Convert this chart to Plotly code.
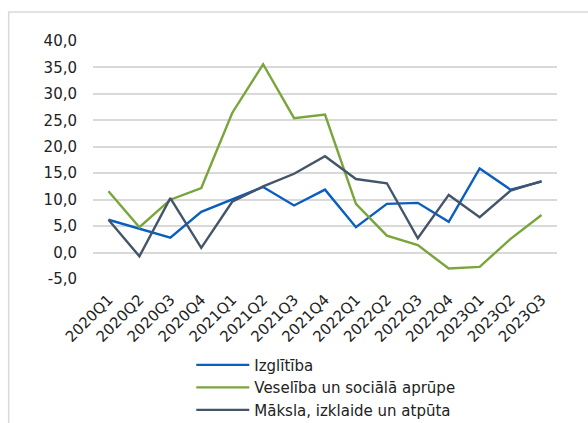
import plotly.graph_objects as go

quarters = ["2020Q1", "2020Q2", "2020Q3", "2020Q4",
            "2021Q1", "2021Q2", "2021Q3", "2021Q4",
            "2022Q1", "2022Q2", "2022Q3", "2022Q4",
            "2023Q1", "2023Q2", "2023Q3"]

izglitiba = [6.2, 4.5, 2.8, 7.7, 10.0, 12.4, 8.9, 11.9, 4.8, 9.2, 9.4, 5.8, 15.9, 11.9, 13.4]
veseliba = [11.6, 4.8, 10.0, 12.2, 26.4, 35.6, 25.4, 26.1, 9.2, 3.2, 1.4, -3.0, -2.7, 2.6, 7.1]
maksla = [6.2, -0.7, 10.3, 0.9, 9.6, 12.5, 14.9, 18.2, 13.9, 13.1, 2.7, 10.9, 6.7, 11.7, 13.5]

names = ["Izglītība", "Veselība un sociālā aprūpe", "Māksla, izklaide un atpūta"]
colors = ["#0A5EBF", "#79A53A", "#44546A"]

fig = go.Figure()
for name, vals, col in zip(names, [izglitiba, veseliba, maksla], colors):
    fig.add_trace(go.Scatter(x=quarters, y=vals, name=name, mode="lines",
                             line=dict(color=col, width=2.4)))

tickvals = [-5, 0, 5, 10, 15, 20, 25, 30, 35, 40]
ticktext = [f"{v:.1f}".replace(".", ",") for v in tickvals]

fig.update_layout(
    width=588, height=423,
    margin=dict(l=92.5, r=30.5, t=41, b=143.7, autoexpand=False),
    paper_bgcolor="white", plot_bgcolor="white",
    font=dict(family="DejaVu Sans, Verdana, sans-serif", size=15, color="#222222"),
    showlegend=True,
    legend=dict(orientation="v", x=(191 - 92.5) / 465, y=(279.3 - 349) / 238.3,
                xanchor="left", yanchor="top",
                font=dict(size=15, color="#222222"), itemwidth=53,
                tracegroupgap=0, bgcolor="rgba(0,0,0,0)"),
    xaxis=dict(type="category", range=[-0.5, 14.5], showgrid=False, zeroline=False,
               showline=False, ticks="", tickangle=-45, tickfont=dict(size=15),
               ticklabelstandoff=8, automargin=False),
    yaxis=dict(range=[-5, 40], tickvals=tickvals, ticktext=ticktext,
               showgrid=True, gridcolor="#D9D9D9", gridwidth=1.5,
               zeroline=False, showline=False, ticks="", ticklabelstandoff=15,
               tickfont=dict(size=15), automargin=False),
    shapes=[dict(type="rect", xref="paper", yref="paper",
                 x0=(8 - 92.5) / 465, x1=1.5, y0=-1.0, y1=(279.3 - 12) / 238.3,
                 line=dict(color="#D9D9D9", width=1.5), layer="below")],
)

fig.write_html("out.html")
